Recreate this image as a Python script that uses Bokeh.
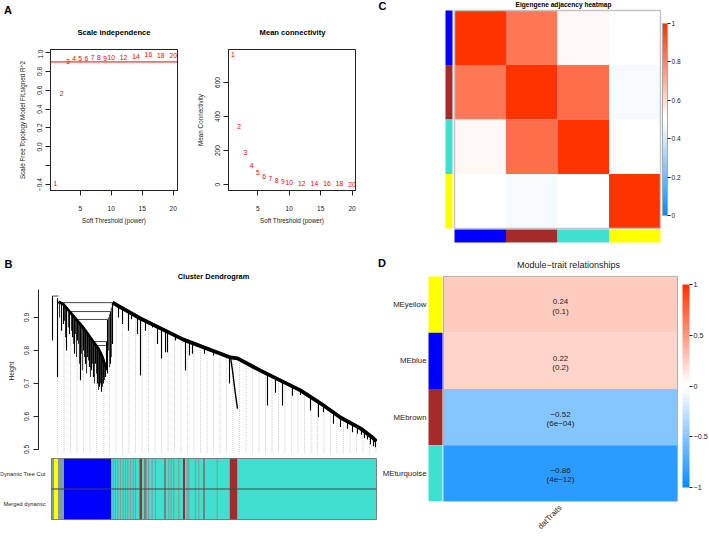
import math
from bokeh.plotting import figure
from bokeh.models import Range1d, FixedTicker, ColorBar, LinearColorMapper, Span, ColumnDataSource
from bokeh.layouts import row, column
from bokeh.embed import file_html
from bokeh.resources import INLINE
from bokeh.core.properties import value

# ---------------- data ----------------
# A: soft-threshold analysis
powers = [1, 2, 3, 4, 5, 6, 7, 8, 9, 10, 12, 14, 16, 18, 20]
sft_r2 = [-0.39, 0.57, 0.91, 0.935, 0.933, 0.933, 0.945, 0.945, 0.94, 0.95, 0.95, 0.955, 0.975, 0.972, 0.972]
mean_k = [765, 341, 188, 112, 71, 47, 35, 24, 18, 13, 8, 6, 5, 4, 3]
r2_cut = 0.9
r2_ticks = [-0.4, -0.2, 0.0, 0.2, 0.4, 0.6, 0.8, 1.0]
r2_tick_labels = ["\u22120.4", "", "0.0", "0.2", "0.4", "0.6", "0.8", "1.0"]
k_ticks = [0, 200, 400, 600]
power_ticks = [5, 10, 15, 20]

# C: eigengene adjacency
modules = ["blue", "brown", "turquoise", "yellow"]
adjacency = [[1.00, 0.83, 0.52, 0.49],
             [0.83, 1.00, 0.85, 0.47],
             [0.52, 0.85, 1.00, 0.49],
             [0.49, 0.47, 0.49, 1.00]]
adj_ticks = [0, 0.2, 0.4, 0.6, 0.8, 1]
adj_tick_labels = ["0", "0.2", "0.4", "0.6", "0.8", "1"]

# D: module-trait relationships
trait_modules = ["MEyellow", "MEblue", "MEbrown", "MEturquoise"]
trait_module_colors = ["yellow", "blue", "brown", "turquoise"]
trait_cor = [0.24, 0.22, -0.52, -0.86]
trait_p = ["0.1", "0.2", "6e-04", "4e-12"]
trait_name = "datTraits"
cor_ticks = [-1, -0.5, 0, 0.5, 1]
cor_tick_labels = ["\u22121", "\u22120.5", "0", "0.5", "1"]

# B: cluster dendrogram (x = leaf position in % of ordered genes, y = height)
spine_x = [18.77, 27.38, 40.62, 55.08, 57.23, 64.31, 76.62, 82.77, 88.92, 95.08, 98.77, 100.0]
spine_h = [0.945, 0.897, 0.833, 0.779, 0.776, 0.739, 0.679, 0.640, 0.597, 0.564, 0.536, 0.525]
cluster_x = [2.15, 3.69, 5.85, 8.0, 10.46, 12.62, 14.46, 15.69, 16.62]
cluster_h = [0.948, 0.940, 0.915, 0.890, 0.860, 0.830, 0.805, 0.780, 0.750]
rung_x0 = [0.31, 2.15, 5.85, 8.0, 12.92, 13.85]
rung_x1 = [2.15, 18.77, 18.15, 17.23, 16.92, 16.62]
rung_h = [0.965, 0.945, 0.918, 0.894, 0.827, 0.815]
drop_x = [0.31, 1.85, 3.08, 3.69, 4.62, 5.54, 6.46, 7.08, 8.0, 8.92, 9.85, 10.46, 11.08, 11.69,
          12.31, 12.92, 13.54, 14.15, 14.77, 15.38, 16.0, 16.62, 16.92, 17.23, 18.15, 18.77,
          20.62, 21.85, 23.69, 24.62, 26.46, 27.38, 28.92, 31.08, 32.62, 33.85, 35.08, 35.69,
          38.15, 41.23, 42.46, 43.38, 47.08, 49.85, 54.77, 66.46, 68.92, 71.08, 74.15, 76.62,
          79.69, 82.15, 83.69, 86.77, 88.92, 91.08, 92.62, 94.15, 95.38, 96.31, 97.23, 98.15,
          99.08, 99.69]
drop_top = [0.965, 0.958, 0.945, 0.940, 0.932, 0.920, 0.912, 0.905, 0.893, 0.885, 0.875, 0.865,
            0.855, 0.848, 0.838, 0.830, 0.822, 0.812, 0.800, 0.785, 0.770, 0.750, 0.827, 0.894,
            0.918, 0.945, 0.932, 0.925, 0.915, 0.910, 0.902, 0.897, 0.890, 0.880, 0.873, 0.867,
            0.861, 0.858, 0.845, 0.830, 0.826, 0.822, 0.808, 0.798, 0.780, 0.730, 0.717, 0.707,
            0.692, 0.679, 0.660, 0.645, 0.635, 0.612, 0.597, 0.585, 0.577, 0.570, 0.560, 0.553,
            0.547, 0.540, 0.533, 0.527]
drop_bottom = [0.83, 0.72, 0.86, 0.88, 0.80, 0.85, 0.84, 0.79, 0.83, 0.71, 0.80, 0.76, 0.78,
               0.75, 0.74, 0.72, 0.76, 0.70, 0.69, 0.675, 0.70, 0.72, 0.74, 0.73, 0.76, 0.82,
               0.90, 0.88, 0.86, 0.895, 0.85, 0.724, 0.86, 0.87, 0.82, 0.776, 0.795, 0.795,
               0.83, 0.739, 0.785, 0.79, 0.79, 0.785, 0.70, 0.633, 0.672, 0.633, 0.663, 0.665,
               0.618, 0.598, 0.613, 0.578, 0.568, 0.563, 0.552, 0.548, 0.545, 0.535, 0.530,
               0.515, 0.510, 0.507]
# finer branches inside the left (blue) cluster
twig_x = [2.46, 4.0, 4.31, 5.2, 6.15, 6.8, 7.4, 7.7, 8.3, 8.6, 9.2, 9.5, 10.15, 10.8, 11.4,
          12.0, 12.6, 13.2, 13.85, 14.46, 15.08, 15.7, 16.3, 17.5, 17.9, 18.4]
twig_top = [0.946, 0.937, 0.935, 0.925, 0.913, 0.907, 0.900, 0.897, 0.888, 0.886, 0.882, 0.878,
            0.870, 0.860, 0.852, 0.843, 0.834, 0.826, 0.818, 0.806, 0.795, 0.780, 0.760, 0.900,
            0.910, 0.930]
twig_bottom = [0.90, 0.89, 0.84, 0.87, 0.86, 0.82, 0.85, 0.78, 0.82, 0.76, 0.79, 0.74, 0.78,
               0.73, 0.77, 0.72, 0.76, 0.70, 0.73, 0.68, 0.70, 0.69, 0.71, 0.80, 0.75, 0.78]
brown_branch_x = [55.08, 55.69, 56.31, 56.92, 57.23]
brown_branch_h = [0.779, 0.740, 0.690, 0.645, 0.624]
guide_top = [0.72, 0.85, 0.84, 0.82, 0.79, 0.74, 0.75, 0.69, 0.75, 0.93,
             0.92, 0.91, 0.90, 0.89, 0.88, 0.87, 0.86, 0.85, 0.84, 0.832,
             0.823, 0.816, 0.808, 0.80, 0.793, 0.786, 0.778, 0.771, 0.762, 0.753,
             0.745, 0.736, 0.727, 0.717, 0.707, 0.697, 0.688, 0.678, 0.666, 0.654,
             0.641, 0.627, 0.613, 0.599, 0.587, 0.576, 0.566, 0.553, 0.538, 0.522]
height_ticks = [0.5, 0.6, 0.7, 0.8, 0.9]

# module colour bands under the dendrogram (x in % of genes)
band_rows = ["Dynamic Tree Cut", "Merged dynamic"]
band_start = [0.0, 0.77, 2.0, 3.85, 18.46]
band_end = [0.77, 2.0, 3.85, 18.46, 100.0]
band_module = ["grey", "yellow", "grey", "blue", "turquoise"]
grey_stripes = [18.98, 19.69, 20.40, 21.23, 22.06, 22.77, 23.48, 24.31, 25.14, 25.85, 29.23,
                29.85, 30.98, 32.0, 36.09, 36.83, 37.63, 39.17, 41.75, 42.25, 44.31, 45.32, 50.98]
brown_start = [27.08, 28.62, 34.77, 40.46, 46.77, 54.86]
brown_end = [27.85, 28.92, 35.08, 41.08, 47.08, 57.14]

# ---------------- style ----------------
COL = {"grey": "#7E9F9B", "yellow": "#FFFF00", "blue": "#0000FF",
       "turquoise": "#40E0D0", "brown": "#A52A2A"}
FONT = "Liberation Sans"
INK = "#222222"


def fs(v):
    return f"{v:.2f}px"


def blue_white_red(n=50):
    blue_end = (0.05, 0.55, 1.0)
    red_end = (1.0, 0.2, 0.0)
    mid = (1.0, 1.0, 1.0)
    half = n // 2
    frac1 = [i / (half - 1) for i in range(half)]
    frac2 = frac1[::-1]
    cols = [[b + (m - b) * f for b, m in zip(blue_end, mid)] for f in frac1]
    cols += [[r + (m - r) * f for r, m in zip(red_end, mid)] for f in frac2]
    return ["#%02x%02x%02x" % tuple(int(round(c * 255)) for c in rgb) for rgb in cols]


BWR = blue_white_red(50)


def make_fig(w, h, xr, yr, borders=(0, 0, 0, 0), xaxis=False, yaxis=False):
    left, right, top, bottom = borders
    p = figure(width=w, height=h, x_range=Range1d(*xr), y_range=Range1d(*yr),
               output_backend="svg", toolbar_location=None, tools="",
               x_axis_location="below" if xaxis else None,
               y_axis_location="left" if yaxis else None,
               min_border_left=left, min_border_right=right,
               min_border_top=top, min_border_bottom=bottom)
    p.xgrid.visible = False
    p.ygrid.visible = False
    p.outline_line_color = None
    p.background_fill_color = "white"
    p.border_fill_color = "white"
    return p


def style_axis(ax, ticks, labels=None, tick_font=6.6, label_font=6.3):
    ax.ticker = FixedTicker(ticks=ticks)
    if labels is not None:
        ax.major_label_overrides = {t: l for t, l in zip(ticks, labels)}
    ax.axis_line_color = INK
    ax.major_tick_line_color = INK
    ax.minor_tick_line_color = None
    ax.minor_tick_in = 0
    ax.minor_tick_out = 0
    ax.major_tick_in = 0
    ax.major_tick_out = 5
    ax.major_label_text_font = FONT
    ax.major_label_text_font_size = fs(tick_font)
    ax.major_label_text_color = INK
    ax.axis_label_text_font = FONT
    ax.axis_label_text_font_size = fs(label_font)
    ax.axis_label_text_font_style = "normal"
    ax.axis_label_text_color = INK


def bare_axis(ax, ticks, labels, size):
    ax.ticker = FixedTicker(ticks=ticks)
    ax.major_label_overrides = {t: l for t, l in zip(ticks, labels)}
    ax.axis_line_color = None
    ax.major_tick_line_color = None
    ax.minor_tick_line_color = None
    ax.major_tick_in = 0
    ax.major_tick_out = 0
    ax.minor_tick_in = 0
    ax.minor_tick_out = 0
    ax.major_label_text_font = FONT
    ax.major_label_text_font_size = fs(size)
    ax.major_label_text_color = INK


def put_text(p, x, y, text, size, bold=False, align="center", color="black"):
    p.text(x=[x], y=[y], text=[text], text_align=align, text_baseline="middle",
           text_font=value(FONT), text_font_size=fs(size),
           text_font_style="bold" if bold else "normal", text_color=color)


# ---------------- header of panel A ----------------
hA = make_fig(377, 49, (0, 377), (49, 0))
put_text(hA, 7.5, 9, "A", 11, bold=True)
put_text(hA, 113.5, 32, "Scale independence", 7.6, bold=True)
put_text(hA, 292, 32, "Mean connectivity", 7.6, bold=True)

# ---------------- A1: scale independence ----------------
a1 = make_fig(180, 201, (0.2, 20.7), (-0.463, 1.032), (50, 3, 0, 60), True, True)
a1.outline_line_color = INK
style_axis(a1.xaxis[0], power_ticks)
style_axis(a1.yaxis[0], r2_ticks, r2_tick_labels)
a1.xaxis.axis_label = "Soft Threshold (power)"
a1.yaxis.axis_label = "Scale Free Topology Model Fit,signed R^2"
a1.xaxis.major_label_standoff = 10
a1.xaxis.axis_label_standoff = 3
a1.yaxis.major_label_standoff = 3
a1.yaxis.axis_label_standoff = 9
a1.yaxis.major_label_orientation = "parallel"
a1.add_layout(Span(location=r2_cut, dimension="width", line_color="red", line_width=1))
a1.text(x=powers, y=sft_r2, text=[str(v) for v in powers], text_color="red",
        text_align="center", text_baseline="middle", text_font=value(FONT),
        text_font_size=fs(6.8))

# ---------------- A2: mean connectivity ----------------
a2 = make_fig(180, 201, (0.32, 20.55), (-35, 794), (48, 5, 0, 60), True, True)
a2.outline_line_color = INK
style_axis(a2.xaxis[0], power_ticks)
style_axis(a2.yaxis[0], k_ticks)
a2.xaxis.axis_label = "Soft Threshold (power)"
a2.yaxis.axis_label = "Mean Connectivity"
a2.xaxis.major_label_standoff = 10
a2.xaxis.axis_label_standoff = 3
a2.yaxis.major_label_standoff = 3
a2.yaxis.axis_label_standoff = 9
a2.yaxis.major_label_orientation = "parallel"
a2.text(x=powers, y=mean_k, text=[str(v) for v in powers], text_color="red",
        text_align="center", text_baseline="middle", text_font=value(FONT),
        text_font_size=fs(6.8))

# ---------------- header of panel B ----------------
hB = make_fig(377, 36, (0, 377), (36, 0))
put_text(hB, 8, 13, "B", 11, bold=True)
put_text(hB, 213, 26, "Cluster Dendrogram", 7.4, bold=True)

# ---------------- B: dendrogram ----------------
bd = make_fig(377, 169, (-4.0, 100.31), (0.4818, 0.9939), (38, 0, 0, 0), False, True)
style_axis(bd.yaxis[0], height_ticks, tick_font=6.6, label_font=6.6)
bd.yaxis.bounds = (0.5, 0.985)
bd.yaxis.axis_label = "Height"
bd.yaxis.major_label_standoff = 4
bd.yaxis.axis_label_standoff = 7
bd.yaxis.major_label_orientation = "parallel"
guide_x = [1.85 + 2 * k for k in range(len(guide_top))]
bd.segment(x0=guide_x, y0=guide_top, x1=guide_x, y1=[0.4879] * len(guide_x),
           line_color="#B4B4B4", line_width=0.7, line_dash="1 1")
bd.segment(x0=twig_x, y0=twig_top, x1=twig_x, y1=twig_bottom, line_color="#1A1A1A", line_width=0.9)
bd.segment(x0=drop_x, y0=drop_top, x1=drop_x, y1=drop_bottom, line_color="black", line_width=1.1)
bd.segment(x0=rung_x0, y0=rung_h, x1=rung_x1, y1=rung_h, line_color="#333333", line_width=0.9)
bd.line(cluster_x, cluster_h, line_color="black", line_width=2.8)
bd.line(brown_branch_x, brown_branch_h, line_color="black", line_width=1.4)
bd.line(spine_x, spine_h, line_color="black", line_width=3.8)

# ---------------- B: module colour bands ----------------
bb = make_fig(377, 82, (-15.69, 100.31), (-1.090, 1.598))
row_c = [1.0, 0.0]
for yc in row_c:
    bb.rect(x=[(s + e) / 2 for s, e in zip(band_start, band_end)], y=yc,
            width=[e - s for s, e in zip(band_start, band_end)], height=1,
            fill_color=[COL[m] for m in band_module], line_color=None)
    bb.rect(x=grey_stripes, y=yc, width=0.35, height=1, fill_color=COL["grey"], line_color=None)
    bb.rect(x=[(s + e) / 2 for s, e in zip(brown_start, brown_end)], y=yc,
            width=[e - s for s, e in zip(brown_start, brown_end)], height=1,
            fill_color=COL["brown"], line_color=None)
bb.rect(x=50, y=0.5, width=100, height=2, fill_color=None, line_color="#666666", line_width=0.8)
bb.segment(x0=[0], y0=[0.5], x1=[100], y1=[0.5], line_color="#444444", line_width=1)
for yc, name in zip(row_c, band_rows):
    bb.text(x=[-1.85], y=[yc], text=[name], text_align="right", text_baseline="middle",
            text_font=value(FONT), text_font_size=fs(5.7), text_color=INK)

# ---------------- C: eigengene adjacency heatmap ----------------
c = make_fig(332, 255, (-1.495, 4.951), (-0.4954, 4.1835))
adj_mapper = LinearColorMapper(palette=BWR, low=0, high=1)
cx, cy, cv = [], [], []
for r, rowvals in enumerate(adjacency):
    for k, v in enumerate(rowvals):
        cx.append(k + 0.5)
        cy.append(len(modules) - r - 0.5)
        cv.append(v)
csrc = ColumnDataSource(dict(x=cx, y=cy, v=cv))
c.rect(x="x", y="y", width=1, height=1, line_color=None,
       fill_color={"field": "v", "transform": adj_mapper}, source=csrc)
c.rect(x=2, y=2, width=4, height=4, fill_color=None, line_color="#C4C4C4", line_width=1.5)
mod_cols = [COL[m] for m in modules]
c.rect(x=-0.107, y=[len(modules) - i - 0.5 for i in range(len(modules))], width=0.136, height=1,
       fill_color=mod_cols, line_color=None)
c.rect(x=[i + 0.5 for i in range(len(modules))], y=-0.138, width=1, height=0.239,
       fill_color=mod_cols, line_color=None)
put_text(c, 2.117, 4.11, "Eigengene adjacency heatmap", 6.6, bold=True)
put_text(c, -1.40, 4.075, "C", 11, bold=True)
cb1 = ColorBar(color_mapper=adj_mapper, ticker=FixedTicker(ticks=adj_ticks),
               major_label_overrides={t: l for t, l in zip(adj_ticks, adj_tick_labels)},
               width=5, height=192, location=(285, 40), padding=0, margin=0,
               background_fill_alpha=0, border_line_color=None, bar_line_color="#AAAAAA",
               major_tick_in=0, major_tick_out=3, major_tick_line_color=INK,
               label_standoff=1, major_label_text_font=FONT,
               major_label_text_font_size=fs(6.6), major_label_text_color=INK)
c.add_layout(cb1)

# ---------------- header of panel D ----------------
hD = make_fig(332, 17, (0, 332), (17, 0))
put_text(hD, 4.5, 7, "D", 11, bold=True)
put_text(hD, 191, 9.5, "Module\u2212trait relationships", 9, color=INK)

# ---------------- D: module-trait relationships ----------------
d = make_fig(332, 265, (-0.0684, 1.1368), (0, 4.0696), (50, 0, 0, 31), True, True)
n_mod = len(trait_modules)
ys = [n_mod - i - 0.5 for i in range(n_mod)]
cor_mapper = LinearColorMapper(palette=BWR, low=-1, high=1)
dsrc = ColumnDataSource(dict(x=[0.5] * n_mod, y=ys, v=trait_cor))
d.rect(x="x", y="y", width=1, height=1, line_color=None,
       fill_color={"field": "v", "transform": cor_mapper}, source=dsrc)
d.rect(x=0.5, y=2, width=1, height=4, fill_color=None, line_color="#B0B0B0", line_width=1)
d.rect(x=-0.0342, y=ys, width=0.0598, height=1, fill_color=[COL[m] for m in trait_module_colors],
       line_color=None)
d.text(x=[0.5] * n_mod, y=[v + 0.05 for v in ys],
       text=[f"{v:.2f}".replace("-", "\u2212") for v in trait_cor],
       text_align="center", text_baseline="middle", text_font=value(FONT),
       text_font_size=fs(8), text_color=INK)
d.text(x=[0.5] * n_mod, y=[v - 0.115 for v in ys],
       text=["(" + s.replace("-", "\u2212") + ")" for s in trait_p],
       text_align="center", text_baseline="middle", text_font=value(FONT),
       text_font_size=fs(8), text_color=INK)
bare_axis(d.yaxis[0], ys, trait_modules, 7.8)
d.yaxis.major_label_standoff = 1
bare_axis(d.xaxis[0], [0.5], [trait_name], 7.8)
d.xaxis.major_label_standoff = 5
d.xaxis.major_label_orientation = math.pi / 4
cb2 = ColorBar(color_mapper=cor_mapper, ticker=FixedTicker(ticks=cor_ticks),
               major_label_overrides={t: l for t, l in zip(cor_ticks, cor_tick_labels)},
               width=7, height=203, location=(255, 14), padding=0, margin=0,
               background_fill_alpha=0, border_line_color=None, bar_line_color=None,
               major_tick_in=0, major_tick_out=3, major_tick_line_color=INK,
               label_standoff=1, major_label_text_font=FONT,
               major_label_text_font_size=fs(7.2), major_label_text_color=INK)
d.add_layout(cb2)

left = column(row(hA), row(a1, a2), row(hB), row(bd), row(bb))
right = column(row(c), row(hD), row(d))
layout = row(left, right)
open("out.html", "w").write(file_html(layout, INLINE))
